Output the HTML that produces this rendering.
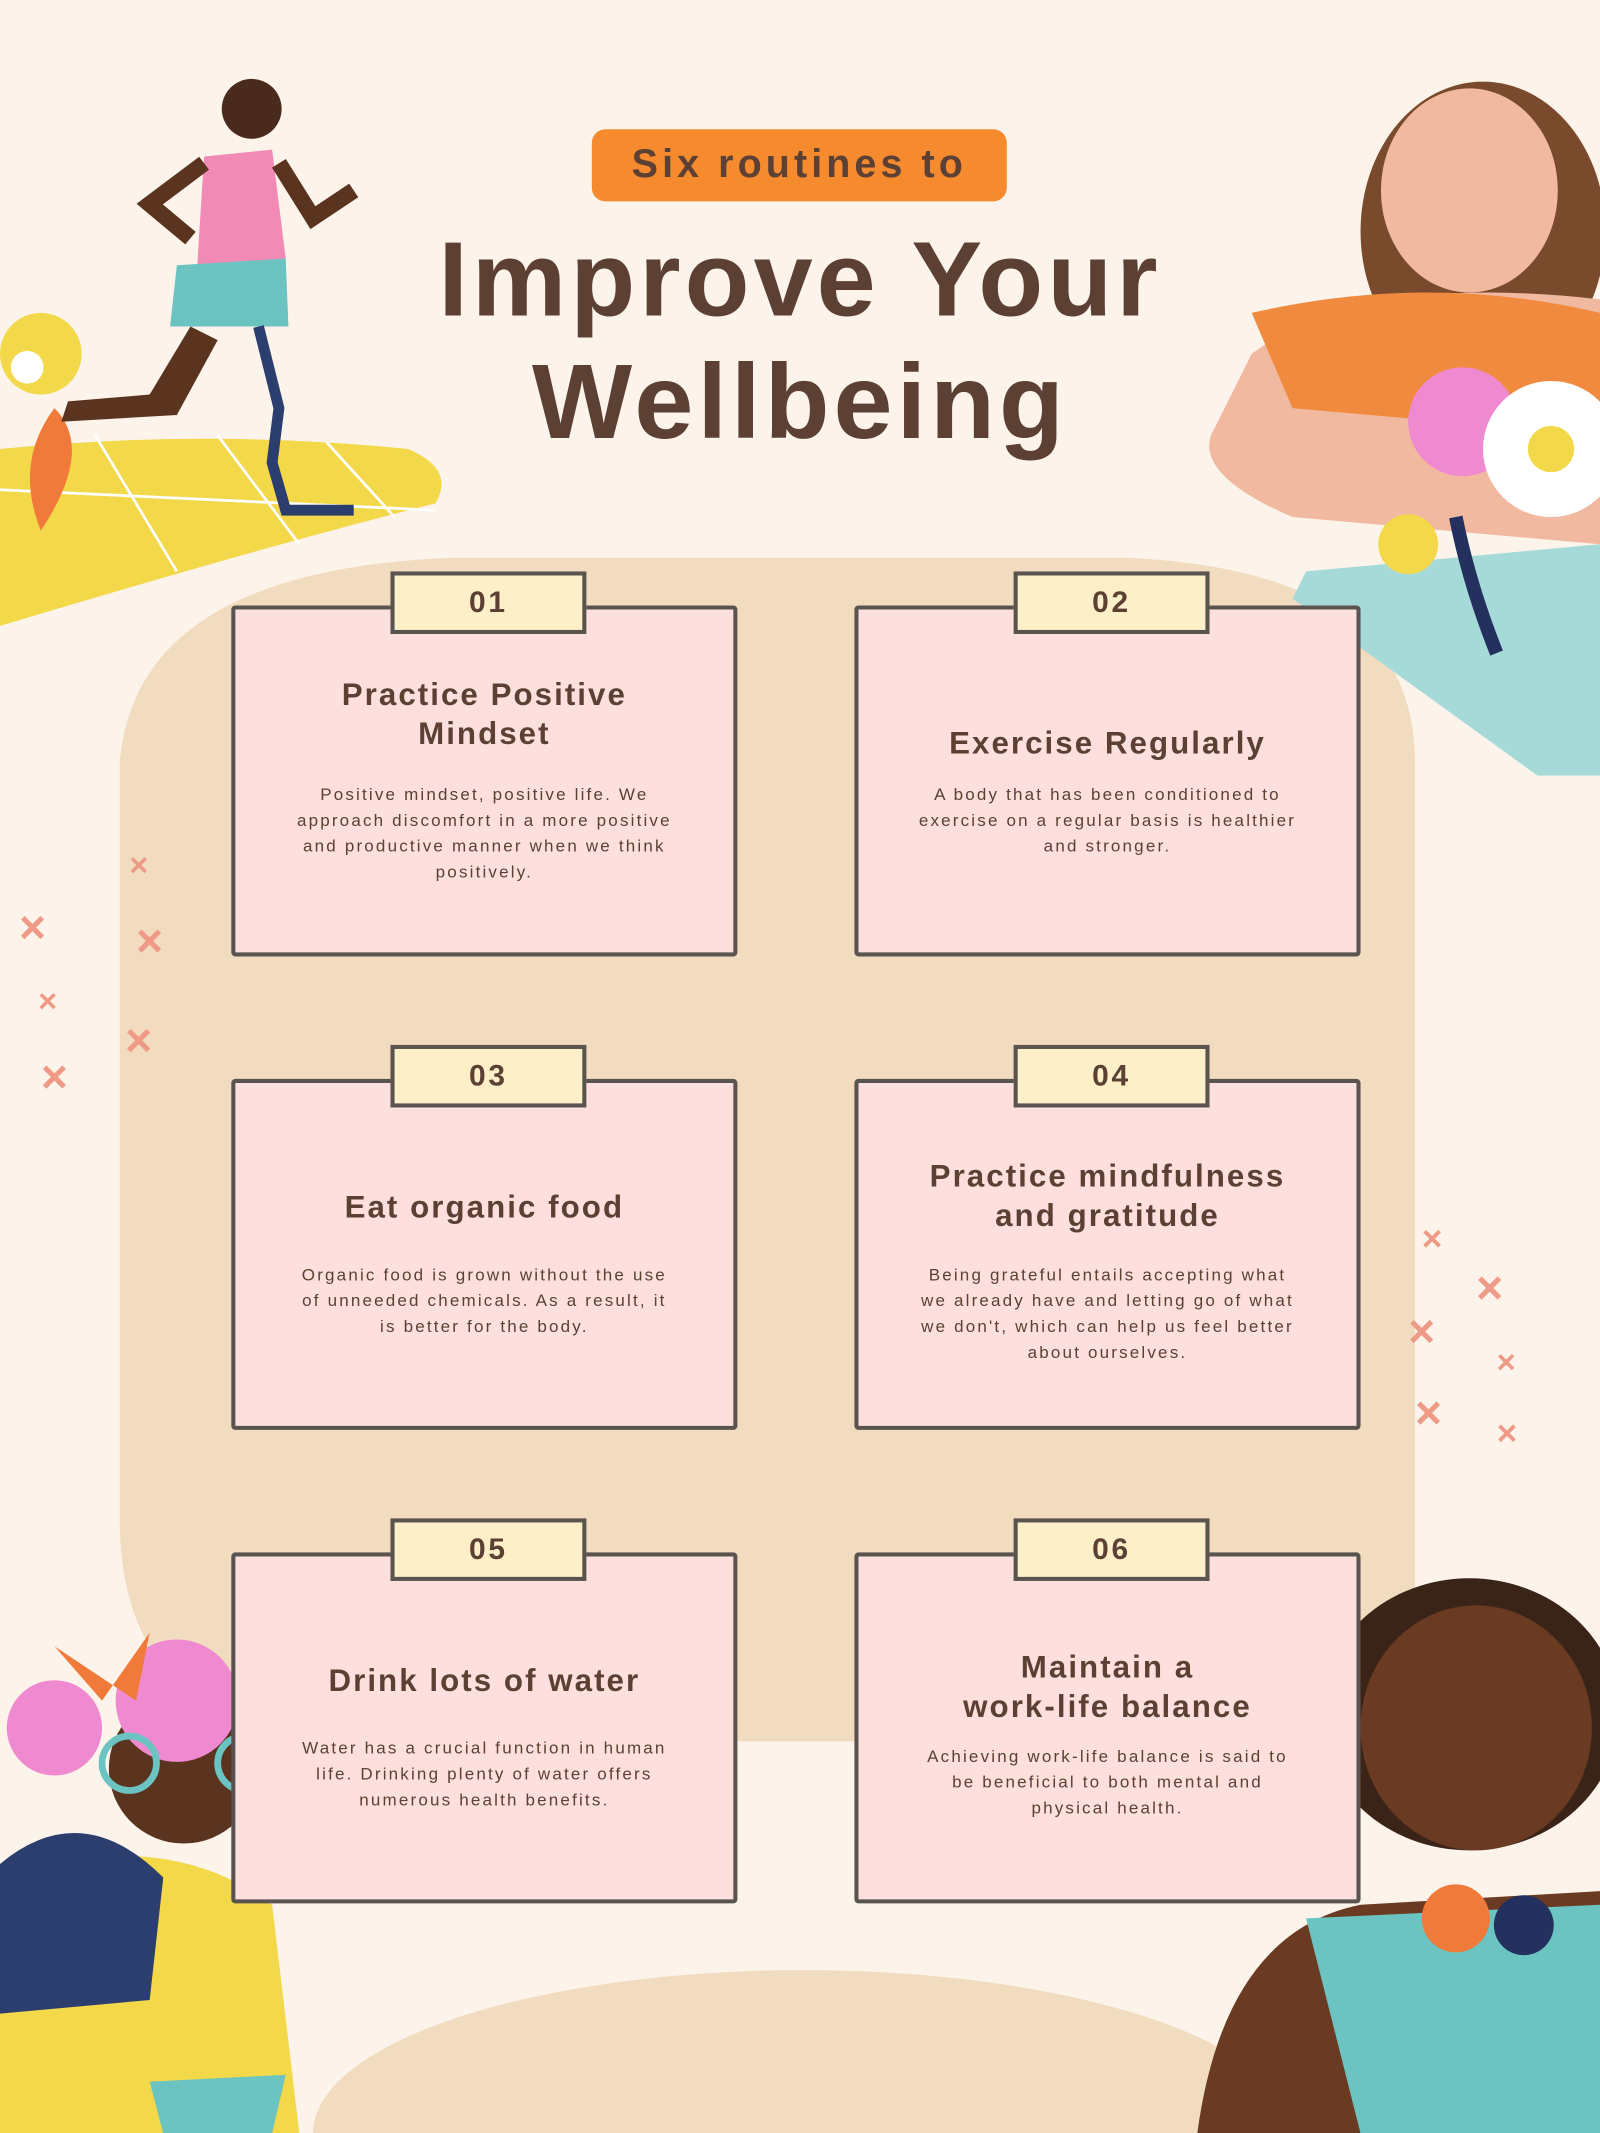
<!DOCTYPE html>
<html><head><meta charset="utf-8"><style>
html,body{margin:0;padding:0;background:#fcf4ea;}
body{width:1600px;height:2133px;overflow:hidden;position:relative;}
#w{position:absolute;left:0;top:0;width:1176px;height:1568px;overflow:hidden;transform:scale(1.36054);transform-origin:0 0;font-family:"Liberation Sans",sans-serif;color:#5c4033;}
.abs{position:absolute;}
.card{position:absolute;width:372px;height:258px;background:#fde0dd;border:3px solid #5a5450;border-radius:3px;box-sizing:border-box;text-align:center;}
.tab{position:absolute;width:144px;height:46px;background:#fdf0c8;border:3px solid #5a5450;box-sizing:border-box;top:-28px;left:114px;font-weight:bold;font-size:22px;line-height:40px;letter-spacing:2px;}
.ct{position:absolute;left:0;right:0;font-weight:bold;font-size:23px;letter-spacing:1.5px;line-height:29px;}
.cb{position:absolute;left:44px;right:44px;font-size:12.5px;letter-spacing:1.6px;line-height:19px;}
.x{position:absolute;color:#ef9a86;font-size:34px;font-weight:bold;line-height:1;}
</style></head><body><div id="w">
<svg class="abs" style="left:0;top:0" width="1176" height="1568">
<path d="M88 560 Q100 420 330 410 L830 410 Q1040 420 1040 560 L1040 1180 Q1030 1280 880 1280 L270 1280 Q90 1280 88 1120 Z" fill="#f2dcc0"/>
<ellipse cx="590" cy="1568" rx="360" ry="120" fill="#f2dcc0"/>
<path d="M0 330 Q150 315 300 330 Q335 345 320 370 Q200 400 0 460 Z" fill="#f3d84a"/>
<path d="M0 360 L320 375 M70 320 L130 420 M160 320 L220 400 M240 325 L290 380" stroke="#fff" stroke-width="2" fill="none"/>
<circle cx="30" cy="260" r="30" fill="#f3d84a"/><circle cx="20" cy="270" r="12" fill="#fff"/>
<path d="M30 390 Q10 340 40 300 Q70 330 30 390" fill="#f07a3a"/>
<circle cx="185" cy="80" r="22" fill="#4a2a1c"/>
<path d="M150 115 L200 110 L210 190 L145 195 Z" fill="#f28ab6"/>
<path d="M130 195 L210 190 L212 240 L125 240 Z" fill="#6cc4c2"/>
<path d="M140 240 L110 290 L50 295 L45 310 L130 305 L160 250 Z" fill="#5b3420"/>
<path d="M190 240 L205 300 L200 340 L210 375 L260 375" stroke="#2c3e6e" stroke-width="8" fill="none"/>
<path d="M150 120 L110 150 L140 175 M205 120 L230 160 L260 140" stroke="#5b3420" stroke-width="12" fill="none"/>
<ellipse cx="1090" cy="170" rx="90" ry="110" fill="#7a4a2c"/>
<ellipse cx="1080" cy="140" rx="65" ry="75" fill="#f0b9a0"/>
<path d="M920 260 Q1000 200 1176 220 L1176 400 L950 380 Q880 350 890 320 Z" fill="#f0b9a0"/>
<path d="M920 230 Q1050 200 1176 230 L1176 320 L950 300 Z" fill="#f08a3e"/>
<path d="M960 420 L1176 400 L1176 570 L1130 570 L950 440 Z" fill="#a5dad8"/>
<circle cx="1075" cy="310" r="40" fill="#f08ad0"/>
<circle cx="1140" cy="330" r="50" fill="#fff"/><circle cx="1140" cy="330" r="17" fill="#f3d84a"/>
<circle cx="1035" cy="400" r="22" fill="#f3d84a"/>
<path d="M1070 380 Q1080 430 1100 480" stroke="#24305e" stroke-width="10" fill="none"/>
<circle cx="135" cy="1300" r="55" fill="#5b3420"/>
<circle cx="130" cy="1250" r="45" fill="#f08ad0"/>
<circle cx="40" cy="1270" r="35" fill="#f08ad0"/>
<path d="M40 1210 L75 1250 L110 1200 L100 1250" fill="#f07a3a"/>
<path d="M0 1380 Q120 1340 200 1400 L220 1568 L0 1568 Z" fill="#f3d84a"/>
<path d="M0 1370 Q60 1320 120 1380 L110 1470 L0 1480 Z" fill="#2c3e6e"/>
<path d="M110 1530 L210 1525 L200 1568 L120 1568 Z" fill="#6cc4c2"/>
<circle cx="95" cy="1296" r="20" fill="none" stroke="#6cc4c2" stroke-width="5"/><circle cx="180" cy="1296" r="20" fill="none" stroke="#6cc4c2" stroke-width="5"/>
<ellipse cx="1080" cy="1260" rx="110" ry="100" fill="#3a2418"/>
<ellipse cx="1085" cy="1270" rx="85" ry="90" fill="#6b3a22"/>
<path d="M880 1568 Q900 1420 1000 1400 L1176 1390 L1176 1568 Z" fill="#6b3a22"/>
<path d="M960 1410 L1176 1400 L1176 1568 L1000 1568 Z" fill="#6cc4c2"/>
<circle cx="1070" cy="1410" r="25" fill="#f07a3a"/><circle cx="1120" cy="1415" r="22" fill="#24305e"/>
</svg>
<div class="abs" style="left:435px;top:95px;width:305px;height:53px;background:#f58a2e;border-radius:10px;text-align:center;font-size:29px;font-weight:bold;line-height:53px;letter-spacing:3px;">Six routines to</div>
<div class="abs" style="left:0;width:1176px;top:160px;text-align:center;font-size:78px;font-weight:bold;line-height:90px;letter-spacing:3px;">Improve Your<br>Wellbeing</div>
<div class="x" style="left:14px;top:665px">×</div><div class="x" style="left:95px;top:625px;font-size:24px">×</div><div class="x" style="left:100px;top:675px">×</div>
<div class="x" style="left:28px;top:725px;font-size:24px">×</div><div class="x" style="left:92px;top:748px">×</div><div class="x" style="left:30px;top:775px">×</div>
<div class="x" style="left:1045px;top:897px;font-size:26px">×</div><div class="x" style="left:1085px;top:930px">×</div><div class="x" style="left:1035px;top:962px">×</div>
<div class="x" style="left:1100px;top:990px;font-size:24px">×</div><div class="x" style="left:1040px;top:1022px">×</div><div class="x" style="left:1100px;top:1040px;font-size:26px">×</div>
<div class="card" style="left:170px;top:445px"><div class="tab">01</div><div class="ct" style="top:48px">Practice Positive<br>Mindset</div><div class="cb" style="top:127px">Positive mindset, positive life. We approach discomfort in a more positive and productive manner when we think positively.</div></div>
<div class="card" style="left:628px;top:445px"><div class="tab">02</div><div class="ct" style="top:84px">Exercise Regularly</div><div class="cb" style="top:127px">A body that has been conditioned to exercise on a regular basis is healthier and stronger.</div></div>
<div class="card" style="left:170px;top:793px"><div class="tab">03</div><div class="ct" style="top:77px">Eat organic food</div><div class="cb" style="top:132px">Organic food is grown without the use of unneeded chemicals. As a result, it is better for the body.</div></div>
<div class="card" style="left:628px;top:793px"><div class="tab">04</div><div class="ct" style="top:54px">Practice mindfulness<br>and gratitude</div><div class="cb" style="top:132px">Being grateful entails accepting what we already have and letting go of what we don't, which can help us feel better about ourselves.</div></div>
<div class="card" style="left:170px;top:1141px"><div class="tab">05</div><div class="ct" style="top:77px">Drink lots of water</div><div class="cb" style="top:132px">Water has a crucial function in human life. Drinking plenty of water offers numerous health benefits.</div></div>
<div class="card" style="left:628px;top:1141px"><div class="tab">06</div><div class="ct" style="top:67px">Maintain a<br>work-life balance</div><div class="cb" style="top:138px">Achieving work-life balance is said to be beneficial to both mental and physical health.</div></div>
</div></body></html>
